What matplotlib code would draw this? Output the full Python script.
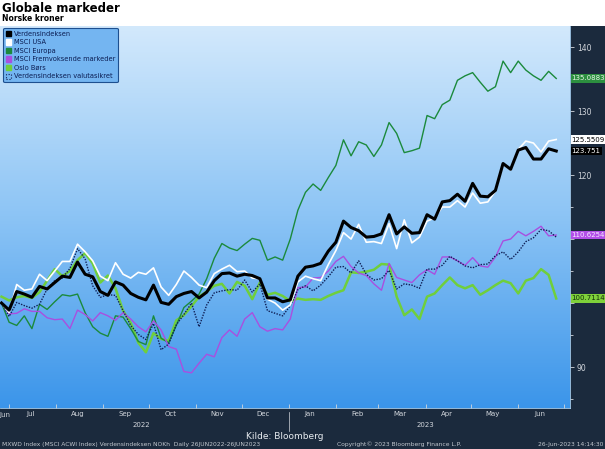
import numpy as np
import pandas as pd
import matplotlib
matplotlib.use("Agg")
from matplotlib import pyplot as plt
from matplotlib import dates as mdates
from matplotlib import transforms
from matplotlib.colors import LinearSegmentedColormap
from matplotlib.patches import Patch, Rectangle

# values, one point every 5 days from 26 Jun 2022
dates = pd.date_range("2022-06-26", periods=74, freq="5D")

verdensindeksen = [
    100, 98.9, 101.8, 101.4, 100.9, 102.6, 102.2, 103.2, 104.2, 104.0,
    106.4, 104.5, 104.1, 101.8, 101.2, 103.3, 102.8, 101.5, 100.9, 100.5,
    102.8, 100.1, 99.8, 101.0, 101.5, 101.8, 100.8, 101.7, 103.5, 104.6,
    104.7, 104.2, 104.5, 104.3, 103.8, 100.8, 100.8, 100.2, 100.5, 104.2,
    105.6, 105.8, 106.2, 108.1, 109.5, 112.8, 111.8, 111.3, 110.3, 110.4,
    110.8, 113.8, 110.8, 111.9, 110.9, 111.0, 113.8, 113.1, 115.8, 116.0,
    117.0, 115.9, 118.7, 116.7, 116.6, 117.6, 121.8, 120.9, 123.9, 124.3,
    122.5, 122.5, 124.1, 123.751,
]
msci_usa = [
    100, 98.5, 102.9, 102.0, 102.2, 104.5, 103.5, 105.0, 106.5, 106.5,
    109.2, 108.0, 106.6, 104.2, 103.5, 106.3, 104.5, 103.9, 104.8, 104.5,
    105.5, 102.5, 101.2, 102.9, 105.0, 104.0, 102.8, 102.4, 104.6, 105.3,
    105.9, 104.9, 105.0, 103.9, 103.8, 100.6, 100.0, 98.9, 99.7, 103.3,
    104.2, 103.8, 103.5, 106.0, 108.2, 111.0, 110.0, 112.3, 109.5, 109.6,
    109.3, 112.4, 108.5, 113.0, 109.4, 110.3, 112.8, 113.3, 115.0, 115.0,
    116.0, 115.0, 117.2, 115.6, 115.8, 117.5, 121.7, 120.8, 124.0, 125.3,
    125.0, 123.6, 125.3, 125.5509,
]
msci_europa = [
    100, 97.0, 96.5, 98.0, 96.0, 99.8, 99.0, 100.2, 101.3, 101.1,
    101.4, 98.5, 96.3, 95.3, 94.8, 98.0, 97.8, 96.0, 94.0, 93.5,
    98.0, 94.5, 93.8, 96.5, 99.3, 100.3, 101.4, 103.8, 107.0, 109.3,
    108.6, 108.2, 109.2, 110.1, 109.8, 106.7, 107.2, 106.7, 110.0, 114.5,
    117.3, 118.6, 117.6, 119.6, 121.5, 125.5, 123.0, 125.2, 124.7, 122.9,
    124.7, 128.2, 126.5, 123.5, 123.8, 124.2, 129.3, 128.8, 131.0, 131.7,
    134.8, 135.5, 136.0, 134.5, 133.1, 133.8, 137.8, 136.0, 137.8, 136.4,
    135.5, 134.8, 136.2, 135.0883,
]
msci_fremvoksende = [
    100, 98.3, 98.4, 99.1, 98.7, 98.7, 97.7, 97.4, 97.5, 96.0,
    98.9, 98.2, 97.2, 98.5, 98.0, 97.3, 98.5, 97.5, 96.3, 95.5,
    97.2, 95.8, 93.2, 92.8, 89.3, 89.1, 90.6, 92.0, 91.6, 94.6,
    95.8, 94.8, 97.5, 98.5, 96.3, 95.6, 96.0, 95.8, 97.5, 102.4,
    102.5, 103.9, 104.0, 105.0, 106.5, 107.3, 105.7, 104.7, 104.3, 103.0,
    102.0, 106.2, 104.0, 103.6, 103.2, 104.4, 105.2, 104.5, 107.2, 107.2,
    106.6, 105.9, 107.1, 105.8, 105.6, 107.2, 109.7, 110.0, 111.2, 110.5,
    111.2, 112.0, 110.5, 110.6254,
]
oslo_bors = [
    101.0, 100.4, 100.9, 101.1, 100.8, 101.7, 103.5, 105.3, 104.2, 105.0,
    106.7, 107.8, 106.2, 103.2, 104.3, 102.3, 98.8, 96.9, 93.8, 92.3,
    95.3, 94.4, 94.1, 97.3, 98.1, 99.5, 101.0, 101.8, 102.7, 103.0,
    101.5, 103.3, 102.7, 100.6, 103.2, 101.3, 101.6, 101.1, 100.3, 100.7,
    100.5, 100.6, 100.5, 101.1, 101.6, 102.0, 104.8, 104.7, 104.9, 105.2,
    106.1, 106.0, 101.0, 98.1, 99.0, 97.5, 101.0, 101.5, 102.8, 104.0,
    102.8, 102.3, 102.8, 101.3, 102.0, 102.8, 103.5, 103.1, 101.5, 103.5,
    103.9, 105.3, 104.4, 100.7114,
]
valutasikret = [
    100, 97.9, 100.1, 99.6, 99.2, 99.8, 102.2, 103.5, 103.9, 105.4,
    108.5, 106.9, 102.7, 100.9, 101.3, 101.2, 98.8, 96.5, 95.1, 94.3,
    96.8, 92.7, 93.6, 96.6, 98.2, 100.0, 96.3, 99.7, 101.6, 101.9,
    102.1, 102.0, 103.6, 101.7, 103.0, 98.8, 98.4, 98.0, 99.6, 102.1,
    102.7, 101.9, 102.8, 104.1, 105.6, 105.7, 104.7, 106.6, 104.5, 103.6,
    103.8, 105.1, 102.2, 103.0, 102.8, 102.3, 105.3, 105.3, 105.9, 107.3,
    106.6, 105.8, 105.5, 106.0, 106.1, 107.4, 108.0, 106.8, 108.0, 109.6,
    110.2, 111.5, 111.3, 110.3,
]

names = ["Verdensindeksen", "MSCI USA", "MSCI Europa", "MSCI Fremvoksende markeder",
         "Oslo Børs", "Verdensindeksen valutasikret"]
y_ticks = [90, 100, 110, 120, 130, 140]
y_ticklabels = ["90", "", "", "120", "130", "140"]

DARK = "#1b2a3d"
LIGHT_TXT = "#d2d6dc"

fig = plt.figure(figsize=(6.05, 4.49), dpi=100, facecolor=DARK)
fig.patches.append(Rectangle((0, 0.942), 1, 0.058, transform=fig.transFigure,
                             facecolor="white", edgecolor="none", zorder=0))
ax = fig.add_axes([0, 0.0913, 0.942, 0.851])

# blue gradient background
cmap = LinearSegmentedColormap.from_list("bg", ["#3b95ea", "#8cc4f5", "#d3e9fc"])
grad = np.linspace(0, 1, 256).reshape(-1, 1)
ax.imshow(grad, cmap=cmap, extent=[0, 1, 0, 1], transform=ax.transAxes,
          aspect="auto", origin="lower", zorder=0)

ax.plot(dates, oslo_bors, color="#6fcf3c", lw=1.8, zorder=2)
ax.plot(dates, msci_europa, color="#1b8a3c", lw=1.0, zorder=3)
ax.plot(dates, msci_fremvoksende, color="#a94fe0", lw=1.0, zorder=3)
ax.plot(dates, valutasikret, color="#0f1f55", lw=1.0, ls=(0, (1, 1)), zorder=4)
ax.plot(dates, msci_usa, color="white", lw=1.2, zorder=4)
ax.plot(dates, verdensindeksen, color="black", lw=2.2, zorder=5)

ax.set_xlim(pd.Timestamp("2022-06-25"), pd.Timestamp("2023-07-05"))
ax.set_ylim(83.6, 143.3)

# right axis
ax.yaxis.tick_right()
ax.set_yticks(y_ticks)
ax.set_yticklabels(y_ticklabels)
ax.set_yticks(np.arange(85, 145, 5), minor=True)
ax.tick_params(axis="y", which="both", colors=LIGHT_TXT, labelsize=5.5,
               direction="out", length=3, width=0.6, pad=2)
ax.tick_params(axis="y", which="minor", length=2)

# months: ticks at month start, names mid-month
ax.xaxis.set_major_locator(mdates.MonthLocator())
ax.xaxis.set_major_formatter(plt.NullFormatter())
ax.xaxis.set_minor_locator(mdates.MonthLocator(bymonthday=15))
ax.xaxis.set_minor_formatter(mdates.DateFormatter("%b"))
ax.tick_params(axis="x", which="major", colors=LIGHT_TXT, length=3, width=0.6,
               direction="in")
ax.tick_params(axis="x", which="minor", length=0, labelsize=5, labelcolor=LIGHT_TXT,
               pad=2)
for side, s in ax.spines.items():
    s.set_visible(side in ("right", "bottom"))
    s.set_color("#a9d2f5")
    s.set_linewidth(0.6)

trans = transforms.blended_transform_factory(ax.transData, ax.transAxes)
# first month is cut off by the axis start, its name sits at the left edge
ax.text(pd.Timestamp("2022-06-28"), -0.0095, "Jun", transform=trans, ha="center",
        va="top", fontsize=5, color=LIGHT_TXT)
ax.text(pd.Timestamp("2022-09-26"), -0.045, "2022", transform=trans, ha="center",
        va="center", fontsize=5, color=LIGHT_TXT)
ax.text(pd.Timestamp("2023-04-01"), -0.045, "2023", transform=trans, ha="center",
        va="center", fontsize=5, color=LIGHT_TXT)
ax.plot([pd.Timestamp("2023-01-01")] * 2, [-0.01, -0.06], transform=trans,
        color=LIGHT_TXT, lw=0.5, clip_on=False)

# last value boxes on the right
last_labels = [
    (msci_europa[-1], "%.4f" % msci_europa[-1], "#2c8f3f", "#e8f5e8"),
    (msci_usa[-1], "%.4f" % msci_usa[-1], "white", "black"),
    (verdensindeksen[-1], "%.3f" % verdensindeksen[-1], "black", "white"),
    (msci_fremvoksende[-1], "%.4f" % msci_fremvoksende[-1], "#b24fe8", "#f5e8ff"),
    (oslo_bors[-1], "%.4f" % oslo_bors[-1], "#7fd13a", "#12300a"),
]
rtrans = transforms.blended_transform_factory(ax.transAxes, ax.transData)
for val, txt, bg, fg in last_labels:
    ax.text(1.003, val, txt, transform=rtrans, ha="left", va="center", fontsize=5,
            color=fg, clip_on=False, zorder=10,
            bbox=dict(boxstyle="square,pad=0.15", facecolor=bg, edgecolor="none"))

# legend
handles = [
    Patch(facecolor="black", edgecolor="black"),
    Patch(facecolor="white", edgecolor="white"),
    Patch(facecolor="#1b8a3c", edgecolor="#1b8a3c"),
    Patch(facecolor="#a94fe0", edgecolor="#a94fe0"),
    Patch(facecolor="#6fcf3c", edgecolor="#6fcf3c"),
    Patch(facecolor="none", edgecolor="#0f1f55", linestyle=":", linewidth=0.8),
]
leg = ax.legend(handles, names, loc="upper left", bbox_to_anchor=(0.0, 1.003),
                fontsize=4.8, handlelength=0.8, handleheight=0.8, handletextpad=0.35,
                labelspacing=0.38, borderpad=0.4, fancybox=True, framealpha=1,
                labelcolor="#0b1d52")
leg.get_frame().set_facecolor("#74b5f1")
leg.get_frame().set_edgecolor("#1d4f8f")
leg.get_frame().set_linewidth(0.8)

# titles and footer
fig.text(0.004, 0.982, "Globale markeder", fontsize=8.5, fontweight="bold",
         ha="left", va="center", color="black")
fig.text(0.004, 0.958, "Norske kroner", fontsize=5.5, fontweight="bold",
         ha="left", va="center", color="black")
fig.text(0.471, 0.027, "Kilde: Bloomberg", fontsize=6.5, ha="center", va="center",
         color="#e8ecf0")
fig.text(0.003, 0.011, "MXWD Index (MSCI ACWI Index) Verdensindeksen NOKh  Daily 26JUN2022-26JUN2023",
         fontsize=4.3, ha="left", va="center", color="#c3c8cf")
fig.text(0.66, 0.011, "Copyright\u00a9 2023 Bloomberg Finance L.P.", fontsize=4.3,
         ha="center", va="center", color="#c3c8cf")
fig.text(0.997, 0.011, "26-Jun-2023 14:14:30", fontsize=4.3, ha="right", va="center",
         color="#c3c8cf")

fig.savefig("out.png", dpi=100, facecolor=DARK)
